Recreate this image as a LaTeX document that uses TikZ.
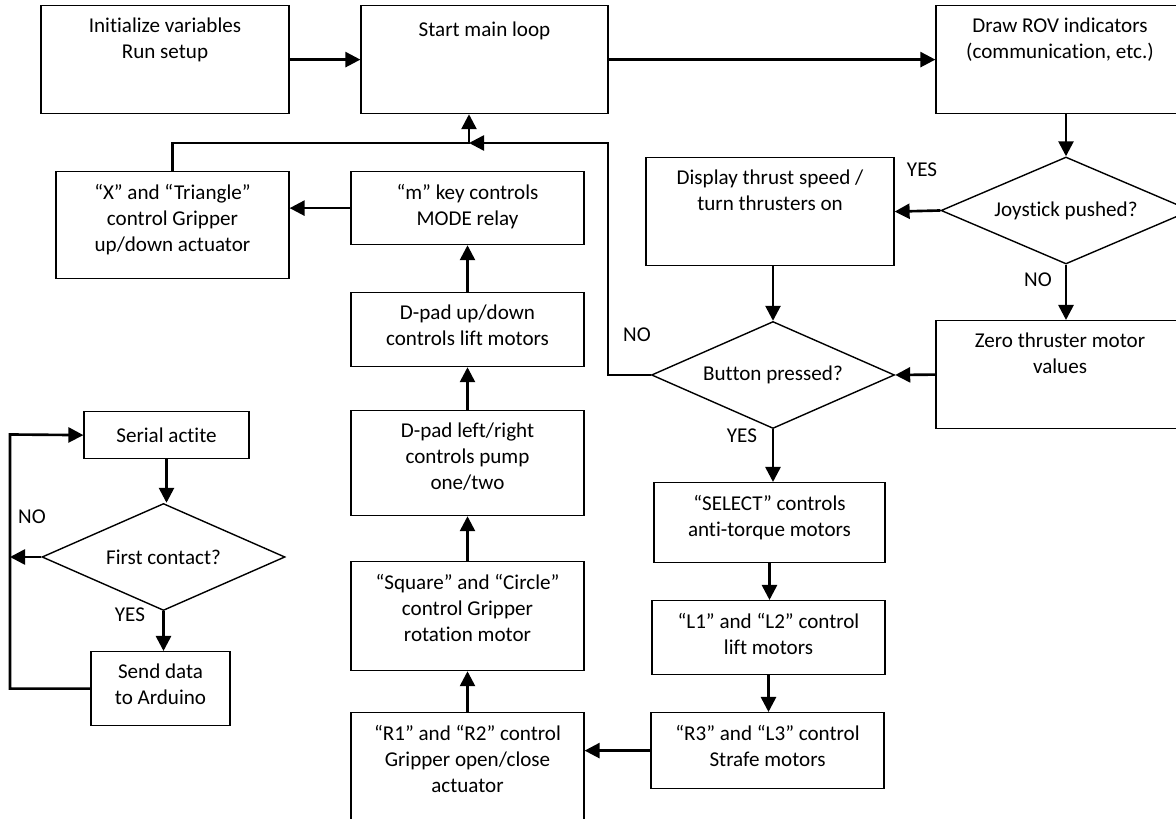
\documentclass[tikz,border=0pt]{standalone}
\usepackage{fontspec}
\setmainfont[Ligatures=NoCommon]{Carlito}
\usepackage{tikz}
\usetikzlibrary{arrows.meta,shapes.geometric}

\begin{document}
\begin{tikzpicture}[
    every node/.style={font=\fontsize{12}{14.7}\selectfont},
    box/.style={draw, line width=0.7pt, anchor=north, inner sep=0pt},
    txt/.style={anchor=north, align=center, inner sep=0pt, yshift=-0.257cm, execute at begin node=\strut},
    dec/.style={draw, diamond, line width=0.8pt, aspect=2.2, inner sep=0pt, minimum width=4.86cm, minimum height=2.14cm},
    arr/.style={line width=1.5pt, -{Triangle[length=0.3cm,width=0.3cm]}}
]
        \useasboundingbox (0,0) rectangle (23.52,-16.38);
        \clip (0,0) rectangle (23.52,-16.38);

        \node[box, minimum width=4.96cm, minimum height=2.16cm, label={[txt]north:{Initialize variables\\Run setup}}] (init) at (3.30,-0.10) {};
        \node[box, minimum width=4.94cm, minimum height=2.16cm, label={[txt]north:{Start main loop}}] (start) at (9.69,-0.10) {};
        \node[box, minimum width=4.96cm, minimum height=2.16cm, label={[txt]north:{Draw ROV indicators\\(communication, etc.)}}] (rov) at (21.20,-0.10) {};
        \node[box, minimum width=4.66cm, minimum height=2.14cm, label={[txt]north:{“X” and “Triangle”\\control Gripper\\up/down actuator}}] (xbox) at (3.45,-3.42) {};
        \node[box, minimum width=4.66cm, minimum height=1.46cm, label={[txt]north:{“m” key controls\\MODE relay}}] (mbox) at (9.35,-3.42) {};
        \node[box, minimum width=4.66cm, minimum height=1.48cm, label={[txt]north:{D-pad up/down\\controls lift motors}}] (dud) at (9.35,-5.84) {};
        \node[box, minimum width=4.66cm, minimum height=2.10cm, label={[txt]north:{D-pad left/right\\controls pump\\one/two}}] (dlr) at (9.35,-8.20) {};
        \node[box, minimum width=4.66cm, minimum height=2.18cm, label={[txt]north:{“Square” and “Circle”\\control Gripper\\rotation motor}}] (square) at (9.35,-11.22) {};
        \node[box, minimum width=4.66cm, minimum height=3.20cm, label={[txt]north:{“R1” and “R2” control\\Gripper open/close\\actuator}}] (r1) at (9.35,-14.24) {};
        \node[box, minimum width=4.96cm, minimum height=2.16cm, label={[txt]north:{Display thrust speed /\\turn thrusters on}}] (display) at (15.40,-3.14) {};
        \node[box, minimum width=4.96cm, minimum height=2.16cm, label={[txt]north:{Zero thruster motor\\values}}] (zero) at (21.20,-6.40) {};
        \node[box, minimum width=4.62cm, minimum height=1.60cm, label={[txt]north:{“SELECT” controls\\anti-torque motors}}] (select) at (15.39,-9.64) {};
        \node[box, minimum width=4.66cm, minimum height=1.48cm, label={[txt]north:{“L1” and “L2” control\\lift motors}}] (l1) at (15.37,-12.00) {};
        \node[box, minimum width=4.66cm, minimum height=1.52cm, label={[txt]north:{“R3” and “L3” control\\Strafe motors}}] (r3) at (15.35,-14.24) {};
        \node[box, minimum width=3.30cm, minimum height=0.94cm, label={[txt]north:{Serial actite}}] (serial) at (3.33,-8.22) {};
        \node[box, minimum width=2.78cm, minimum height=1.48cm, label={[txt]north:{Send data\\to Arduino}}] (send) at (3.21,-13.02) {};

        \node[dec, minimum width=5.0cm] (joy) at (21.32,-4.21) {Joystick pushed?};
        \node[dec] (button) at (15.46,-7.50) {Button pressed?};
        \node[dec] (first) at (3.27,-11.14) {First contact?};

        \node (yesj) at (18.44,-3.40) {YES};
        \node (noj) at (20.76,-5.60) {NO};
        \node (nob) at (12.74,-6.70) {NO};
        \node (yesb) at (14.84,-8.72) {YES};
        \node (nof) at (0.64,-10.34) {NO};
        \node (yesf) at (2.60,-12.30) {YES};

        \coordinate (junc) at (9.38,-2.86);
        \coordinate (turn) at (12.16,-2.86);
        \coordinate (loop) at (0.20,-8.69);

        \draw[arr] (init.east) -- (start.west);
        \draw[arr] (start.east) -- (rov.west);
        \draw[arr] (joy.north |- rov.south) -- (joy.north);
        \draw[arr] (joy.west) -- (display.east);
        \draw[arr] (joy.south) -- (joy.south |- zero.north);
        \draw[arr] (zero.west) -- (button.east);
        \draw[arr] (button.north |- display.south) -- (button.north);
        \draw[arr] (button.south) -- (button.south |- select.north);
        \draw[arr] (select.south) -- (select.south |- l1.north);
        \draw[arr] (l1.south) -- (l1.south |- r3.north);
        \draw[arr] (r3.west) -- (r3.west -| r1.east);
        \draw[arr] (r1.north) -- (square.south);
        \draw[arr] (square.north) -- (dlr.south);
        \draw[arr] (dlr.north) -- (dud.south);
        \draw[arr] (dud.north) -- (mbox.south);
        \draw[arr] (mbox.west) -- (mbox.west -| xbox.east);
        \draw[arr] (button.west) -| (turn) -- (junc);
        \draw[arr] (xbox.north) |- (junc) -- (junc |- start.south);
        \draw[arr] (serial.south) -- (serial.south |- first.north);
        \draw[arr] (first.south) -- (first.south |- send.north);
        \draw[arr] (first.west) -- (first.west -| loop);
        \draw[arr] (send.west) -| (loop) -- (serial.west);
\end{tikzpicture}
\end{document}
